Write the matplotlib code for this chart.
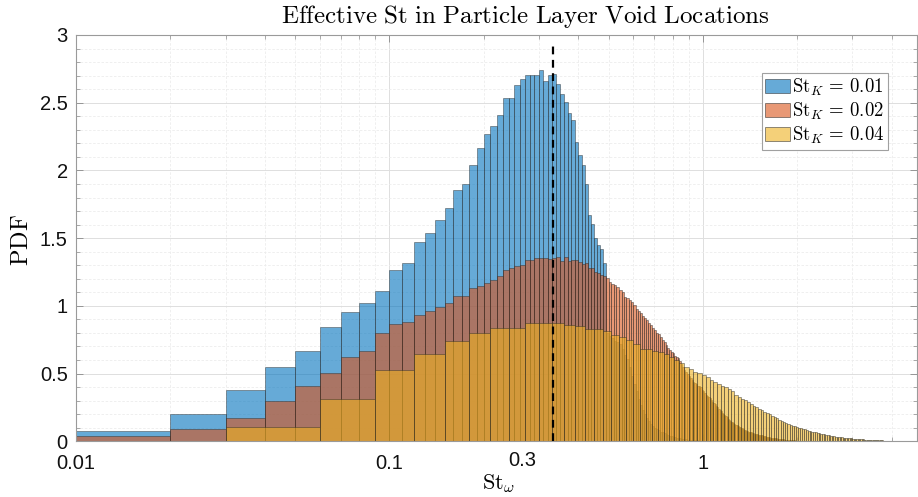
import numpy as np
import matplotlib
matplotlib.use("Agg")
import matplotlib.pyplot as plt
from matplotlib.patches import Patch
from matplotlib.ticker import NullFormatter, LogLocator, MultipleLocator
from matplotlib.transforms import blended_transform_factory

plt.rcParams['mathtext.fontset'] = 'cm'
plt.rcParams['font.family'] = ['Liberation Sans', 'DejaVu Sans']

# ---------------- data ----------------
labels = [r'$\mathrm{St}_K\,=\,0.01$', r'$\mathrm{St}_K\,=\,0.02$', r'$\mathrm{St}_K\,=\,0.04$']

blue_start, blue_width = 0.01, 0.01
blue_pdf = [0.078, 0.199, 0.378, 0.546, 0.664, 0.841, 0.953, 1.018, 1.108, 1.268,
            1.317, 1.475, 1.541, 1.637, 1.720, 1.856, 1.903, 2.040, 2.168, 2.266,
            2.325, 2.406, 2.537, 2.537, 2.633, 2.677, 2.701, 2.701, 2.701, 2.738,
            2.657, 2.701, 2.714, 2.635, 2.566, 2.502, 2.426, 2.375, 2.212, 2.114,
            2.043, 1.903, 1.674, 1.608, 1.504, 1.450, 1.420, 1.320,
            0.80, 0.78, 0.76, 0.74, 0.73, 0.72, 0.68, 0.64, 0.61, 0.55, 0.48, 0.42,
            0.37, 0.31, 0.27, 0.23, 0.20, 0.17, 0.15, 0.13, 0.115, 0.10,
            0.09, 0.08, 0.072, 0.065, 0.058, 0.052, 0.047, 0.042, 0.038, 0.034,
            0.030, 0.027, 0.024, 0.022, 0.020, 0.018, 0.016, 0.015, 0.013, 0.012,
            0.010, 0.009, 0.008, 0.007, 0.006, 0.006, 0.005, 0.005, 0.004, 0.004]

red_start, red_width = 0.01, 0.01
red_pdf = [0.037, 0.088, 0.172, 0.295, 0.405, 0.506, 0.619, 0.664, 0.796, 0.863,
           0.882, 0.936, 0.960, 0.988, 1.018, 1.073, 1.073, 1.133, 1.148, 1.172,
           1.194, 1.222, 1.264, 1.280, 1.295, 1.300, 1.335, 1.335, 1.350, 1.350,
           1.350, 1.345, 1.350, 1.362, 1.330, 1.364, 1.330, 1.335, 1.335, 1.322,
           1.310, 1.320, 1.283, 1.280, 1.249, 1.245, 1.229, 1.220, 1.209, 1.177,
           1.165, 1.155, 1.140, 1.120, 1.100, 1.066, 1.055, 1.045, 1.025, 1.005,
           0.980, 0.960, 0.944, 0.925, 0.907, 0.894, 0.875, 0.858, 0.840, 0.820,
           0.800, 0.789, 0.770, 0.747, 0.730, 0.710, 0.690, 0.673, 0.660, 0.649,
           0.632, 0.620, 0.613, 0.590, 0.570, 0.550, 0.530, 0.515, 0.500, 0.485,
           0.470, 0.455, 0.440, 0.430, 0.420, 0.410, 0.405, 0.400, 0.380, 0.370,
           0.360, 0.345, 0.335, 0.325, 0.317, 0.305, 0.293, 0.282, 0.272, 0.262,
           0.252, 0.241, 0.231, 0.221, 0.212, 0.203, 0.194, 0.185, 0.177, 0.168,
           0.157, 0.151, 0.145, 0.139, 0.133, 0.128, 0.123, 0.118, 0.113, 0.108,
           0.104, 0.099, 0.095, 0.091, 0.087, 0.083, 0.079, 0.075, 0.071, 0.069,
           0.067, 0.065, 0.063, 0.061, 0.059, 0.057, 0.055, 0.053, 0.051, 0.049,
           0.048, 0.047, 0.045, 0.044, 0.042, 0.040, 0.039, 0.037, 0.035, 0.034,
           0.032, 0.030, 0.029, 0.028, 0.027, 0.026, 0.025, 0.024, 0.023, 0.022,
           0.021, 0.020, 0.019, 0.019, 0.018, 0.017, 0.016, 0.016, 0.015, 0.015,
           0.014, 0.013, 0.013, 0.012, 0.011, 0.011, 0.010, 0.010, 0.009, 0.009,
           0.008, 0.008, 0.007, 0.007, 0.006, 0.006, 0.005, 0.005, 0.005]

yellow_start, yellow_width = 0.03, 0.03
yellow_pdf = [0.108, 0.310, 0.526, 0.641, 0.737, 0.803, 0.838, 0.838, 0.870, 0.870,
              0.877, 0.862, 0.850, 0.826, 0.826, 0.816, 0.784, 0.769, 0.747, 0.715,
              0.685, 0.680, 0.666, 0.661, 0.641, 0.624, 0.600, 0.575, 0.551, 0.533,
              0.509, 0.501, 0.489, 0.477, 0.452, 0.440, 0.425, 0.410, 0.400, 0.385,
              0.370, 0.345, 0.330, 0.315, 0.305, 0.292, 0.275, 0.258, 0.250, 0.236,
              0.228, 0.218, 0.207, 0.198, 0.186, 0.178, 0.170, 0.160, 0.152, 0.144,
              0.137, 0.130, 0.123, 0.116, 0.110, 0.105, 0.100, 0.097, 0.093, 0.088,
              0.083, 0.079, 0.075, 0.072, 0.069, 0.066, 0.063, 0.060, 0.057, 0.054,
              0.051, 0.048, 0.046, 0.044, 0.041, 0.039, 0.037, 0.035, 0.033, 0.032,
              0.030, 0.029, 0.028, 0.027, 0.025, 0.024, 0.023, 0.022, 0.021, 0.020,
              0.019, 0.018, 0.017, 0.016, 0.016, 0.015, 0.014, 0.014, 0.013, 0.012,
              0.012, 0.011, 0.011, 0.010, 0.010, 0.009, 0.009, 0.008, 0.008, 0.007,
              0.007, 0.006, 0.006, 0.006, 0.005, 0.005, 0.004, 0.004, 0.004, 0.003,
              0.003, 0.003]

st_line = 1.0 / 3.0
xtick_vals = [0.01, 0.1, 1]
xtick_labels = ['0.01', '0.1', '1']
extra_label = '0.3'
extra_label_x = 0.265
ytick_vals = [0, 0.5, 1, 1.5, 2, 2.5, 3]
ytick_labels = ['0', '0.5', '1', '1.5', '2', '2.5', '3']

# ---------------- figure ----------------
W, H = 918, 497
fig = plt.figure(figsize=(W / 100, H / 100), dpi=100)
ax = fig.add_axes([76 / W, 1 - 441.3 / H, (917 - 76) / W, (441.3 - 35) / H])

colors = [(0.0, 0.447, 0.741), (0.85, 0.325, 0.098), (0.929, 0.694, 0.125)]
edge = (0.15, 0.15, 0.15, 0.65)

series = [(blue_start, blue_width, blue_pdf),
          (red_start, red_width, red_pdf),
          (yellow_start, yellow_width, yellow_pdf)]
for (start, width, vals), c in zip(series, colors):
    vals = np.asarray(vals)
    lefts = start + width * np.arange(len(vals))
    ax.bar(lefts, vals, width=width, align='edge', color=c, alpha=0.6,
           edgecolor=edge, linewidth=0.5, zorder=2)

ax.axvline(st_line, ymax=0.985, color='black', linestyle=(0, (3.5, 2.5)),
           linewidth=1.6, zorder=5)

ax.set_xscale('log')
ax.set_xlim(0.01, 4.82)
ax.set_ylim(0, 3)

ax.set_xticks(xtick_vals)
ax.set_xticklabels(xtick_labels)
ax.xaxis.set_minor_locator(LogLocator(base=10, subs=np.arange(2, 10)))
ax.xaxis.set_minor_formatter(NullFormatter())
ax.set_yticks(ytick_vals)
ax.set_yticklabels(ytick_labels)
ax.yaxis.set_minor_locator(MultipleLocator(0.1))

ax.tick_params(which='both', direction='in', top=True, right=True,
               color='#8a8a8a', labelsize=14.5, labelcolor='#111111')
ax.tick_params(which='major', length=5, width=0.6)
ax.tick_params(axis='x', which='major', pad=9)
ax.tick_params(axis='y', which='major', pad=6)
ax.tick_params(which='minor', length=3, width=0.5)
for s in ax.spines.values():
    s.set_color('#9a9a9a')
    s.set_linewidth(0.8)

ax.grid(which='major', color='#dedede', linewidth=0.7, zorder=0)
ax.grid(which='minor', color='#ececec', linewidth=0.6, linestyle=(0, (3, 2)), zorder=0)
ax.set_axisbelow(True)

trans = blended_transform_factory(ax.transData, ax.transAxes)
ax.text(extra_label_x, -19.5 / 406.3, extra_label, transform=trans, ha='center',
        va='center', fontsize=14.5, color='#111111')

fig.text(525 / W, 1 - 16 / H, r'$\mathrm{Effective\ St\ in\ Particle\ Layer\ Void\ Locations}$',
         ha='center', va='center', fontsize=18)
fig.text(499 / W, 1 - 484 / H, r'$\mathrm{St}_\omega$', ha='center', va='center', fontsize=16)
fig.text(22 / W, 1 - 240 / H, r'$\mathrm{PDF}$', ha='center', va='center', fontsize=17.5,
         rotation=90)

handles = [Patch(facecolor=c, alpha=0.6, edgecolor=(0.15, 0.15, 0.15), linewidth=0.6)
           for c in colors]
leg = ax.legend(handles, labels, loc='upper right', bbox_to_anchor=(0.9655, 0.9065),
                borderaxespad=0, fontsize=13.5, handlelength=1.3, handleheight=0.75,
                handletextpad=0.12, labelspacing=0.15, borderpad=0.2,
                fancybox=False, framealpha=1, edgecolor='#a0a0a0')
leg.get_frame().set_linewidth(0.8)

fig.savefig('out.png', dpi=100)
